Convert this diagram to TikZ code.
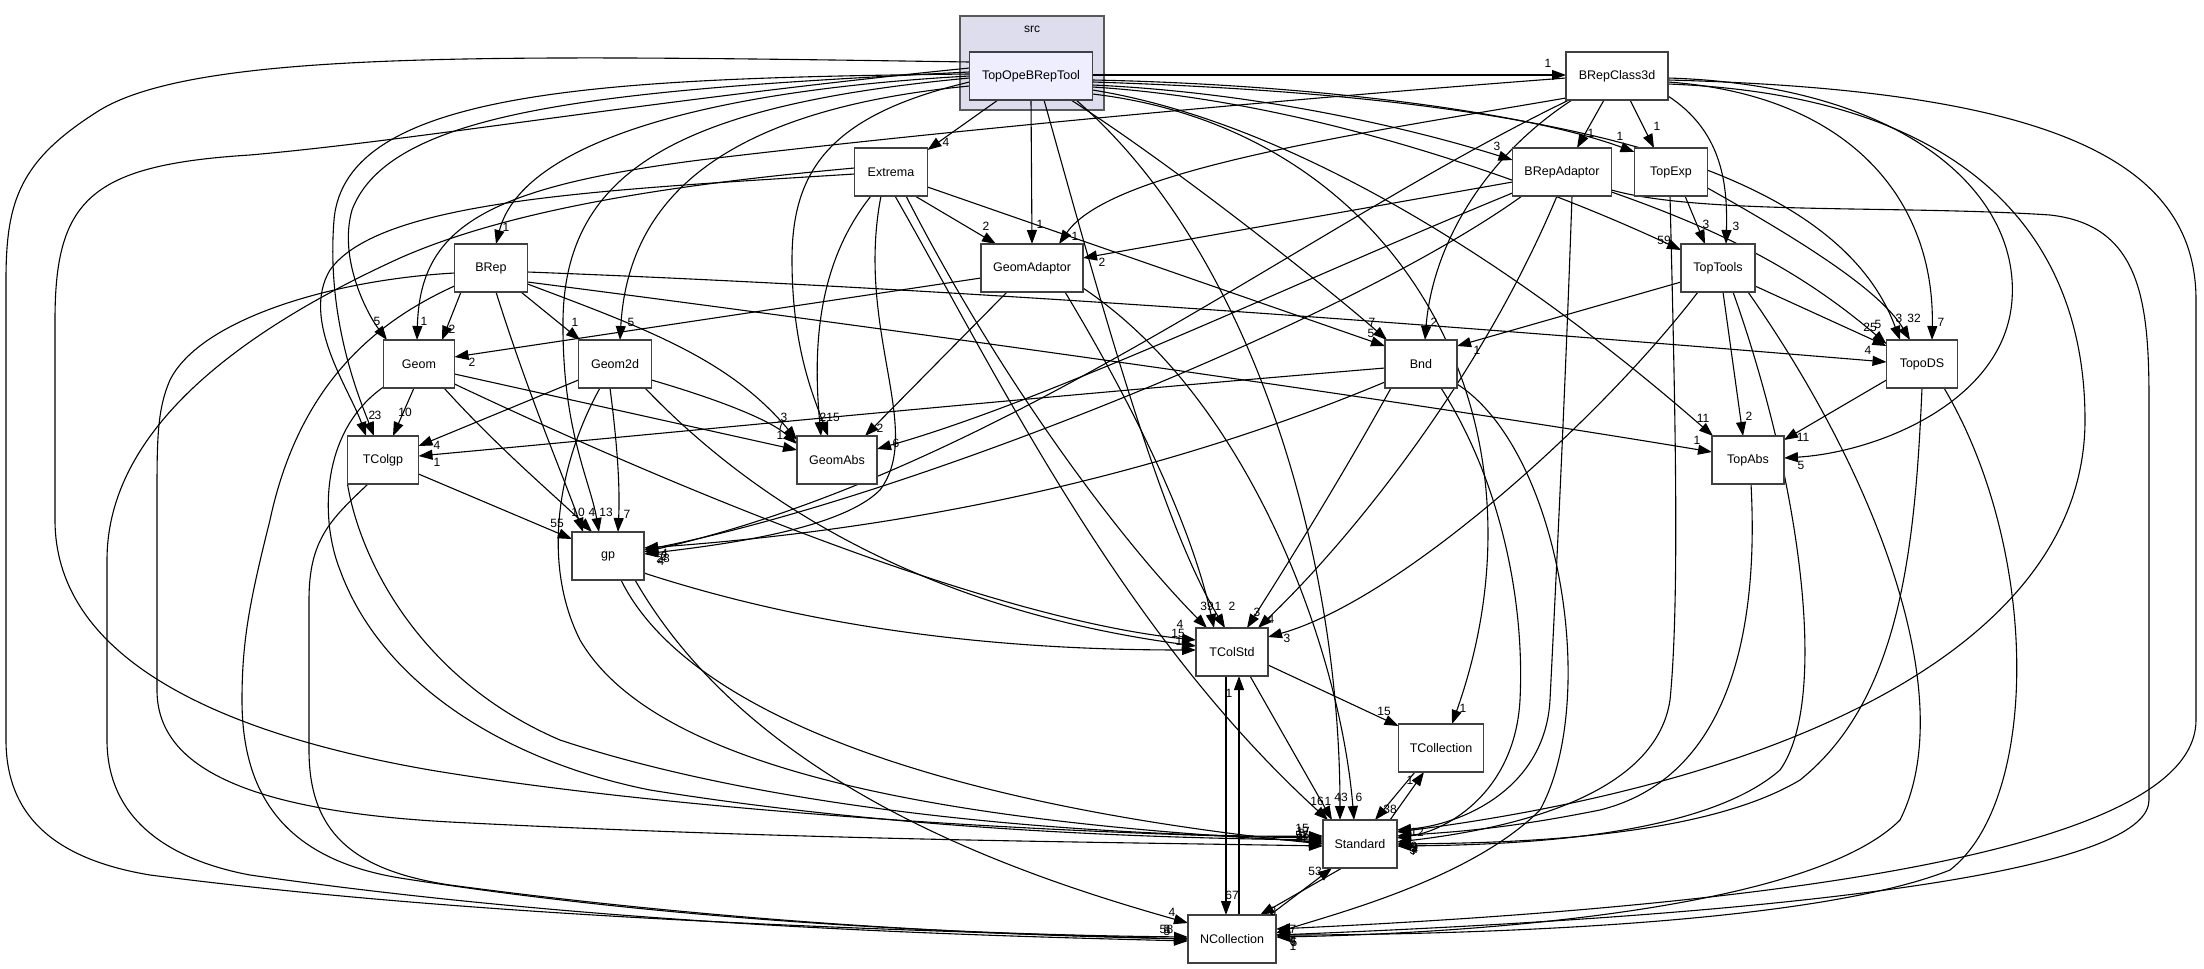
\documentclass[tikz,border=0pt]{standalone}
\usepackage{fontspec}
\setmainfont{Liberation Sans}
\usetikzlibrary{arrows.meta}
\pgfdeclarelayer{back}
\pgfdeclarelayer{edges}
\pgfsetlayers{back,edges,main}
\definecolor{clusterfill}{HTML}{DDDDEE}
\definecolor{tobtfill}{HTML}{EEEEFF}
\tikzset{
  nb/.style={draw=black!75, line width=1.5pt, fill=white, minimum width=#1, minimum height=48, inner sep=0pt, font=\fontsize{12.5}{15}\selectfont},
  dep/.style={line width=1.1pt, -{Triangle[length=14pt,width=10pt]}},
  lbl/.style={inner sep=0pt, font=\fontsize{12}{13}\selectfont},
}
\begin{document}
\begin{tikzpicture}[x=1pt,y=-1pt]
\useasboundingbox (0,0) rectangle (2204,969);
\begin{pgfonlayer}{back}
\fill[white] (0,0) rectangle (2204,969);
\draw[fill=clusterfill, draw=black!65, line width=1.5pt] (960,16) rectangle (1104,110);
\end{pgfonlayer}
\node[lbl] (srclabel) at (1032,29) {src};
% nodes
\node[nb=123, fill=tobtfill] (TOBT) at (1031,76) {TopOpeBRepTool};
\node[nb=102] (B3d) at (1617,76) {BRepClass3d};
\node[nb=73] (Ext) at (891,172) {Extrema};
\node[nb=99] (BAd) at (1562,172) {BRepAdaptor};
\node[nb=73] (TEx) at (1671,172) {TopExp};
\node[nb=102] (GAd) at (1032,268) {GeomAdaptor};
\node[nb=73] (BRep) at (491,268) {BRep};
\node[nb=74] (TTo) at (1718,268) {TopTools};
\node[nb=71] (Geom) at (419,364) {Geom};
\node[nb=73] (G2d) at (615,364) {Geom2d};
\node[nb=72] (Bnd) at (1421,364) {Bnd};
\node[nb=71] (TDS) at (1922,364) {TopoDS};
\node[nb=71] (TCg) at (383,460) {TColgp};
\node[nb=80] (GAb) at (837,460) {GeomAbs};
\node[nb=72] (TAb) at (1748,460) {TopAbs};
\node[nb=72] (gp) at (608,556) {gp};
\node[nb=72] (TCS) at (1232,652) {TColStd};
\node[nb=85] (TCo) at (1441,748) {TCollection};
\node[nb=74] (Std) at (1360,844) {Standard};
\node[nb=88] (NCo) at (1232,939) {NCollection};

\begin{pgfonlayer}{edges}
% TopOpeBRepTool
\draw[dep] ([shift={(61.5,-1)}]TOBT.center) -- ([shift={(-51,-1)}]B3d.center);
\draw[dep] ([shift={(-33,24)}]TOBT.center) -- ([shift={(36.5,-22)}]Ext.center);
\draw[dep] ([shift={(0,24)}]TOBT.center) -- ([shift={(0,-24)}]GAd.center);
\draw[dep] ([shift={(61.5,9)}]TOBT.center) .. controls (1250,92) and (1400,125) .. ([shift={(-49.5,-12)}]BAd.center);
\draw[dep] ([shift={(61.5,4)}]TOBT.center) .. controls (1300,84) and (1520,110) .. ([shift={(-36.5,-20)}]TEx.center);
\draw[dep] ([shift={(61.5,11)}]TOBT.center) .. controls (1300,100) and (1520,175) .. ([shift={(-37,-18)}]TTo.center);
\draw[dep] ([shift={(61.5,6)}]TOBT.center) .. controls (1500,95) and (1830,150) .. ([shift={(-22,-24)}]TDS.center);
\draw[dep] ([shift={(61.5,14)}]TOBT.center) .. controls (1280,120) and (1500,250) .. ([shift={(-35,-24)}]TAb.center);
\draw[dep] ([shift={(40,24)}]TOBT.center) .. controls (1180,170) and (1330,290) .. ([shift={(-34,-24)}]Bnd.center);
\draw[dep] ([shift={(13,24)}]TOBT.center) .. controls (1100,300) and (1160,520) .. ([shift={(-7,-24)}]TCS.center);
\draw[dep] ([shift={(61.5,18)}]TOBT.center) .. controls (1400,130) and (1560,420) .. ([shift={(11,-24)}]TCo.center);
\draw[dep] ([shift={(-61.5,-8)}]TOBT.center) .. controls (650,100) and (420,140) .. (250,155) .. controls (90,165) and (55,200) .. (55,320) -- (55,520) .. controls (55,650) and (200,730) .. (430,770) .. controls (700,815) and (1100,835) .. ([shift={(-37,-6)}]Std.center);
\draw[dep] ([shift={(-61.5,-14)}]TOBT.center) .. controls (500,55) and (200,50) .. (100,110) .. controls (20,160) and (6,200) .. (6,280) -- (6,740) .. controls (6,820) and (60,860) .. (150,875) .. controls (500,920) and (900,930) .. ([shift={(-44,0)}]NCo.center);
\draw[dep] ([shift={(-61.5,2)}]TOBT.center) .. controls (680,105) and (565,170) .. (563,320) .. controls (562,430) and (590,480) .. ([shift={(-9,-24)}]gp.center);
\draw[dep] ([shift={(-61.5,6)}]TOBT.center) .. controls (830,115) and (792,170) .. (792,260) .. controls (792,350) and (815,400) .. ([shift={(-9,-24)}]GAb.center);
\draw[dep] ([shift={(-61.5,10)}]TOBT.center) .. controls (720,110) and (628,200) .. ([shift={(5,-24)}]G2d.center);
\draw[dep] ([shift={(-61.5,-4)}]TOBT.center) .. controls (600,90) and (390,110) .. (352,210) .. controls (338,260) and (368,315) .. ([shift={(-32,-24)}]Geom.center);
\draw[dep] ([shift={(-61.5,0)}]TOBT.center) .. controls (680,92) and (520,150) .. ([shift={(5,-24)}]BRep.center);
\draw[dep] ([shift={(-61.5,-2)}]TOBT.center) .. controls (600,78) and (345,90) .. (334,220) .. controls (326,320) and (360,400) .. ([shift={(-9,-24)}]TCg.center);
\draw[dep] ([shift={(45,24)}]TOBT.center) .. controls (1250,250) and (1340,550) .. ([shift={(-20,-24)}]Std.center);
% BRepClass3d
\draw[dep] ([shift={(-13,24)}]B3d.center) -- ([shift={(15,-24)}]BAd.center);
\draw[dep] ([shift={(13,24)}]B3d.center) -- ([shift={(-17,-24)}]TEx.center);
\draw[dep] ([shift={(51,20)}]B3d.center) .. controls (1720,130) and (1728,180) .. ([shift={(8,-24)}]TTo.center);
\draw[dep] ([shift={(-45,24)}]B3d.center) .. controls (1480,160) and (1432,250) .. ([shift={(4,-24)}]Bnd.center);
\draw[dep] ([shift={(-51,22)}]B3d.center) .. controls (1350,135) and (1110,170) .. ([shift={(27,-24)}]GAd.center);
\draw[dep] ([shift={(-51,2)}]B3d.center) .. controls (1300,98) and (950,130) .. (700,160) .. controls (480,188) and (420,230) .. ([shift={(-2,-24)}]Geom.center);
\draw[dep] ([shift={(-48,24)}]B3d.center) .. controls (1300,230) and (1000,470) .. ([shift={(36,-4)}]gp.center);
\draw[dep] ([shift={(51,6)}]B3d.center) .. controls (1850,95) and (1935,200) .. ([shift={(10,-24)}]TDS.center);
\draw[dep] ([shift={(51,2)}]B3d.center) .. controls (1900,85) and (2020,190) .. (2012,300) .. controls (2005,400) and (1880,452) .. ([shift={(36,-2)}]TAb.center);
\draw[dep] ([shift={(51,8)}]B3d.center) .. controls (1960,95) and (2085,230) .. (2085,420) .. controls (2085,640) and (1800,780) .. ([shift={(37,-12)}]Std.center);
\draw[dep] ([shift={(51,4)}]B3d.center) .. controls (2050,90) and (2196,160) .. (2196,300) -- (2196,720) .. controls (2196,830) and (1900,900) .. ([shift={(44,-10)}]NCo.center);
% Extrema
\draw[dep] ([shift={(24,24)}]Ext.center) -- ([shift={(-36,-24)}]GAd.center);
\draw[dep] ([shift={(36.5,15)}]Ext.center) -- ([shift={(-36,-18)}]Bnd.center);
\draw[dep] ([shift={(-20,24)}]Ext.center) .. controls (820,260) and (812,340) .. ([shift={(-16,-24)}]GAb.center);
\draw[dep] ([shift={(-10,24)}]Ext.center) .. controls (855,330) and (925,430) .. (880,490) .. controls (840,530) and (720,545) .. ([shift={(36,-2)}]gp.center);
\draw[dep] ([shift={(15,24)}]Ext.center) .. controls (1000,380) and (1120,540) .. ([shift={(-25,-24)}]TCS.center);
\draw[dep] ([shift={(4,24)}]Ext.center) .. controls (1000,380) and (1120,630) .. ([shift={(-32,-24)}]Std.center);
\draw[dep] ([shift={(-36.5,-4)}]Ext.center) .. controls (700,182) and (520,205) .. (400,258) .. controls (220,340) and (107,440) .. (107,560) -- (107,740) .. controls (107,820) and (170,860) .. (250,875) .. controls (600,925) and (950,935) .. ([shift={(-44,2)}]NCo.center);
\draw[dep] ([shift={(-36.5,2)}]Ext.center) .. controls (600,190) and (380,200) .. (330,270) .. controls (300,320) and (350,390) .. ([shift={(-17,-24)}]TCg.center);
% BRepAdaptor
\draw[dep] ([shift={(-49.5,10)}]BAd.center) -- ([shift={(51,-10)}]GAd.center);
\draw[dep] ([shift={(49.5,20)}]BAd.center) .. controls (1720,230) and (1800,270) .. ([shift={(-35.5,-20)}]TDS.center);
\draw[dep] ([shift={(-49.5,21)}]BAd.center) .. controls (1300,280) and (1050,400) .. ([shift={(40,-11)}]GAb.center);
\draw[dep] ([shift={(-40,24)}]BAd.center) .. controls (1350,320) and (900,500) .. ([shift={(36,-6)}]gp.center);
\draw[dep] ([shift={(-5,24)}]BAd.center) .. controls (1480,380) and (1350,540) .. ([shift={(26,-24)}]TCS.center);
\draw[dep] ([shift={(10,24)}]BAd.center) .. controls (1565,400) and (1555,600) .. (1550,700) .. controls (1545,790) and (1460,825) .. ([shift={(37,-14)}]Std.center);
\draw[dep] ([shift={(49.5,18)}]BAd.center) .. controls (1700,215) and (1900,205) .. (2050,215) .. controls (2140,225) and (2149,300) .. (2149,400) -- (2149,800) .. controls (2149,860) and (1900,910) .. ([shift={(44,-4)}]NCo.center);
% TopExp
\draw[dep] ([shift={(14,24)}]TEx.center) -- ([shift={(-13,-24)}]TTo.center);
\draw[dep] ([shift={(36.5,16)}]TEx.center) .. controls (1800,240) and (1880,290) .. ([shift={(-12,-24)}]TDS.center);
\draw[dep] ([shift={(-1,24)}]TEx.center) .. controls (1675,400) and (1680,600) .. (1670,700) .. controls (1655,800) and (1500,830) .. ([shift={(37,-2)}]Std.center);
% GeomAdaptor
\draw[dep] ([shift={(-51,10)}]GAd.center) -- ([shift={(35.5,-7)}]Geom.center);
\draw[dep] ([shift={(-25,24)}]GAd.center) -- ([shift={(28,-24)}]GAb.center);
\draw[dep] ([shift={(33,24)}]GAd.center) .. controls (1130,400) and (1190,520) .. ([shift={(-18,-24)}]TCS.center);
\draw[dep] ([shift={(51,20)}]GAd.center) .. controls (1250,400) and (1340,650) .. ([shift={(-6,-24)}]Std.center);
% BRep
\draw[dep] ([shift={(-30,24)}]BRep.center) -- ([shift={(23,-24)}]Geom.center);
\draw[dep] ([shift={(30,24)}]BRep.center) -- ([shift={(-35,-24)}]G2d.center);
\draw[dep] ([shift={(36.5,4)}]BRep.center) .. controls (1000,290) and (1500,330) .. ([shift={(-35.5,-2)}]TDS.center);
\draw[dep] ([shift={(36.5,14)}]BRep.center) .. controls (900,330) and (1400,400) .. ([shift={(-36,-8)}]TAb.center);
\draw[dep] ([shift={(36.5,16)}]BRep.center) .. controls (650,330) and (730,360) .. ([shift={(-40,-20)}]GAb.center);
\draw[dep] ([shift={(5,24)}]BRep.center) .. controls (530,400) and (565,480) .. ([shift={(-25,-24)}]gp.center);
\draw[dep] ([shift={(-36.5,5)}]BRep.center) .. controls (330,280) and (200,320) .. (170,380) .. controls (157,410) and (157,440) .. (157,500) -- (157,690) .. controls (157,760) and (230,810) .. (450,822) .. controls (800,840) and (1100,842) .. ([shift={(-37,2)}]Std.center);
\draw[dep] ([shift={(-36.5,18)}]BRep.center) .. controls (380,320) and (300,380) .. (270,520) .. controls (250,600) and (242,640) .. (242,700) .. controls (242,800) and (290,860) .. (400,878) .. controls (700,925) and (1000,935) .. ([shift={(-44,-2)}]NCo.center);
% Geom
\draw[dep] ([shift={(-5,24)}]Geom.center) -- ([shift={(10,-24)}]TCg.center);
\draw[dep] ([shift={(25,24)}]Geom.center) .. controls (500,450) and (560,500) .. ([shift={(-16,-24)}]gp.center);
\draw[dep] ([shift={(35.5,10)}]Geom.center) -- ([shift={(-40,-10)}]GAb.center);
\draw[dep] ([shift={(35.5,20)}]Geom.center) .. controls (700,500) and (1000,620) .. ([shift={(-36,-12)}]TCS.center);
\draw[dep] ([shift={(-34,22)}]Geom.center) .. controls (320,430) and (320,520) .. (340,570) .. controls (380,680) and (500,760) .. (650,790) .. controls (900,830) and (1150,838) .. ([shift={(-37,-4)}]Std.center);
% Geom2d
\draw[dep] ([shift={(-36.5,16)}]G2d.center) -- ([shift={(35.5,-14)}]TCg.center);
\draw[dep] ([shift={(-5,24)}]G2d.center) .. controls (618,450) and (620,490) .. ([shift={(10,-24)}]gp.center);
\draw[dep] ([shift={(36.5,16)}]G2d.center) .. controls (720,400) and (770,420) .. ([shift={(-40,-16)}]GAb.center);
\draw[dep] ([shift={(30,24)}]G2d.center) .. controls (800,550) and (1000,620) .. ([shift={(-36,-6)}]TCS.center);
\draw[dep] ([shift={(-15,24)}]G2d.center) .. controls (560,460) and (540,560) .. (580,640) .. controls (650,760) and (900,820) .. ([shift={(-37,-2)}]Std.center);
% Bnd
\draw[dep] ([shift={(-36,4)}]Bnd.center) .. controls (1000,400) and (700,430) .. ([shift={(35.5,-4)}]TCg.center);
\draw[dep] ([shift={(-36,18)}]Bnd.center) .. controls (1150,480) and (900,530) .. ([shift={(36,-8)}]gp.center);
\draw[dep] ([shift={(-30,24)}]Bnd.center) .. controls (1340,480) and (1290,560) .. ([shift={(15,-24)}]TCS.center);
\draw[dep] ([shift={(20,24)}]Bnd.center) .. controls (1500,480) and (1525,600) .. (1520,700) .. controls (1515,790) and (1450,830) .. ([shift={(37,-6)}]Std.center);
\draw[dep] ([shift={(36,20)}]Bnd.center) .. controls (1560,450) and (1600,700) .. (1540,810) .. controls (1470,880) and (1330,915) .. ([shift={(44,-6)}]NCo.center);
% TopTools
\draw[dep] ([shift={(-37,14)}]TTo.center) -- ([shift={(36,-18)}]Bnd.center);
\draw[dep] ([shift={(37,18)}]TTo.center) -- ([shift={(-35.5,-18)}]TDS.center);
\draw[dep] ([shift={(5,24)}]TTo.center) -- ([shift={(-5,-24)}]TAb.center);
\draw[dep] ([shift={(-20,24)}]TTo.center) .. controls (1600,420) and (1400,600) .. ([shift={(36,-15)}]TCS.center);
\draw[dep] ([shift={(15,24)}]TTo.center) .. controls (1800,480) and (1830,700) .. (1780,770) .. controls (1700,840) and (1500,845) .. ([shift={(37,2)}]Std.center);
\draw[dep] ([shift={(30,24)}]TTo.center) .. controls (1880,480) and (1960,700) .. (1900,820) .. controls (1800,920) and (1400,935) .. ([shift={(44,-2)}]NCo.center);
% TopoDS
\draw[dep] ([shift={(-35.5,16)}]TDS.center) -- ([shift={(36,-20)}]TAb.center);
\draw[dep] ([shift={(0,24)}]TDS.center) .. controls (1915,550) and (1900,700) .. (1800,780) .. controls (1700,840) and (1500,843) .. ([shift={(37,0)}]Std.center);
\draw[dep] ([shift={(22,24)}]TDS.center) .. controls (2040,550) and (2040,800) .. (1950,870) .. controls (1800,930) and (1400,935) .. ([shift={(44,-4)}]NCo.center);
% TopAbs
\draw[dep] ([shift={(3,24)}]TAb.center) .. controls (1760,650) and (1720,780) .. (1600,810) .. controls (1500,830) and (1450,832) .. ([shift={(37,-8)}]Std.center);
% TColgp
\draw[dep] ([shift={(35.5,14)}]TCg.center) -- ([shift={(-36,-17)}]gp.center);
\draw[dep] ([shift={(-35.5,24)}]TCg.center) .. controls (360,560) and (420,680) .. (560,740) .. controls (800,820) and (1150,838) .. ([shift={(-37,-8)}]Std.center);
\draw[dep] ([shift={(-15,24)}]TCg.center) .. controls (330,520) and (309,540) .. (309,600) -- (309,750) .. controls (309,830) and (350,870) .. (450,885) .. controls (750,925) and (1000,935) .. ([shift={(-44,0)}]NCo.center);
% gp
\draw[dep] ([shift={(36,17)}]gp.center) .. controls (850,640) and (1050,650) .. ([shift={(-36,-2)}]TCS.center);
\draw[dep] ([shift={(13,24)}]gp.center) .. controls (680,700) and (900,800) .. ([shift={(-37,0)}]Std.center);
\draw[dep] ([shift={(27,24)}]gp.center) .. controls (750,780) and (1000,870) .. ([shift={(-44,-16)}]NCo.center);
% TColStd
\draw[dep] ([shift={(36,13)}]TCS.center) -- ([shift={(-42.5,-22)}]TCo.center);
\draw[dep] ([shift={(18,24)}]TCS.center) -- ([shift={(-28,-24)}]Std.center);
\draw[dep] ([shift={(-6,24)}]TCS.center) -- ([shift={(-6,-24)}]NCo.center);
% NCollection
\draw[dep] ([shift={(7,-24)}]NCo.center) -- ([shift={(7,24)}]TCS.center);
\draw[dep] ([shift={(38,-24)}]NCo.center) -- ([shift={(-28,24)}]Std.center);
% Standard
\draw[dep] ([shift={(-18,24)}]Std.center) -- ([shift={(28,-24)}]NCo.center);
\draw[dep] ([shift={(30,-24)}]Std.center) -- ([shift={(-17,24)}]TCo.center);
% TCollection
\draw[dep] ([shift={(-26,24)}]TCo.center) -- ([shift={(15,-24)}]Std.center);
\end{pgfonlayer}

% labels
\node[lbl] (l1) at (1548,63) {1};
\node[lbl] (l2) at (946,142) {4};
\node[lbl] (l3) at (1040,224) {1};
\node[lbl] (l4) at (1497,146) {3};
\node[lbl] (l5) at (1620,136) {1};
\node[lbl] (l6) at (1664,240) {59};
\node[lbl] (l7) at (1899,318) {3};
\node[lbl] (l8) at (1703,418) {11};
\node[lbl] (l9) at (1372,322) {7};
\node[lbl] (l10) at (1232,606) {2};
\node[lbl] (l11) at (1463,708) {1};
\node[lbl] (l12) at (1302,828) {15};
\node[lbl] (l13) at (1163,929) {5};
\node[lbl] (l14) at (606,512) {13};
\node[lbl] (l15) at (833,417) {15};
\node[lbl] (l16) at (631,322) {5};
\node[lbl] (l17) at (377,321) {5};
\node[lbl] (l18) at (506,227) {1};
\node[lbl] (l19) at (378,415) {3};
\node[lbl] (l20) at (1341,797) {43};
\node[lbl] (l21) at (1591,133) {1};
\node[lbl] (l22) at (1657,126) {1};
\node[lbl] (l23) at (1736,226) {3};
\node[lbl] (l24) at (1434,322) {2};
\node[lbl] (l25) at (1075,236) {1};
\node[lbl] (l26) at (424,321) {1};
\node[lbl] (l27) at (661,553) {14};
\node[lbl] (l28) at (1941,322) {7};
\node[lbl] (l29) at (1801,465) {5};
\node[lbl] (l30) at (1417,832) {12};
\node[lbl] (l31) at (1293,929) {7};
\node[lbl] (l32) at (986,226) {2};
\node[lbl] (l33) at (1371,333) {5};
\node[lbl] (l34) at (823,417) {2};
\node[lbl] (l35) at (663,558) {28};
\node[lbl] (l36) at (1207,606) {39};
\node[lbl] (l37) at (1317,801) {16};
\node[lbl] (l38) at (1167,929) {3};
\node[lbl] (l39) at (372,415) {2};
\node[lbl] (l40) at (1102,262) {2};
\node[lbl] (l41) at (1878,324) {5};
\node[lbl] (l42) at (896,443) {6};
\node[lbl] (l43) at (664,556) {2};
\node[lbl] (l44) at (1271,619) {4};
\node[lbl] (l45) at (1414,846) {9};
\node[lbl] (l46) at (1293,940) {4};
\node[lbl] (l47) at (1706,224) {3};
\node[lbl] (l48) at (1914,318) {32};
\node[lbl] (l49) at (1414,848) {5};
\node[lbl] (l50) at (472,362) {2};
\node[lbl] (l51) at (880,428) {2};
\node[lbl] (l52) at (1218,606) {1};
\node[lbl] (l53) at (1359,797) {6};
\node[lbl] (l54) at (452,329) {2};
\node[lbl] (l55) at (575,322) {1};
\node[lbl] (l56) at (1868,350) {4};
\node[lbl] (l57) at (1697,440) {1};
\node[lbl] (l58) at (784,417) {3};
\node[lbl] (l59) at (578,512) {10};
\node[lbl] (l60) at (1303,831) {17};
\node[lbl] (l61) at (1170,929) {8};
\node[lbl] (l62) at (405,412) {10};
\node[lbl] (l63) at (592,512) {4};
\node[lbl] (l64) at (780,435) {1};
\node[lbl] (l65) at (1180,624) {4};
\node[lbl] (l66) at (1302,835) {57};
\node[lbl] (l67) at (437,445) {4};
\node[lbl] (l68) at (627,514) {7};
\node[lbl] (l69) at (781,425) {7};
\node[lbl] (l70) at (1178,633) {15};
\node[lbl] (l71) at (1303,838) {92};
\node[lbl] (l72) at (437,462) {1};
\node[lbl] (l73) at (661,561) {4};
\node[lbl] (l74) at (1257,612) {3};
\node[lbl] (l75) at (1413,850) {3};
\node[lbl] (l76) at (1293,941) {6};
\node[lbl] (l77) at (1477,350) {1};
\node[lbl] (l78) at (1870,327) {25};
\node[lbl] (l79) at (1749,416) {2};
\node[lbl] (l80) at (1287,638) {3};
\node[lbl] (l81) at (1415,849) {4};
\node[lbl] (l82) at (1294,942) {5};
\node[lbl] (l83) at (1803,437) {11};
\node[lbl] (l84) at (1414,851) {7};
\node[lbl] (l85) at (1293,946) {1};
\node[lbl] (l86) at (1415,847) {9};
\node[lbl] (l87) at (557,523) {55};
\node[lbl] (l88) at (1302,833) {5};
\node[lbl] (l89) at (1167,931) {5};
\node[lbl] (l90) at (1179,641) {1};
\node[lbl] (l91) at (1303,836) {2};
\node[lbl] (l92) at (1172,912) {4};
\node[lbl] (l93) at (1384,711) {15};
\node[lbl] (l94) at (1328,801) {1};
\node[lbl] (l95) at (1232,895) {67};
\node[lbl] (l96) at (1229,693) {1};
\node[lbl] (l97) at (1315,871) {53};
\node[lbl] (l98) at (1273,911) {3};
\node[lbl] (l99) at (1410,780) {1};
\node[lbl] (l100) at (1390,809) {38};
\end{tikzpicture}
\end{document}
